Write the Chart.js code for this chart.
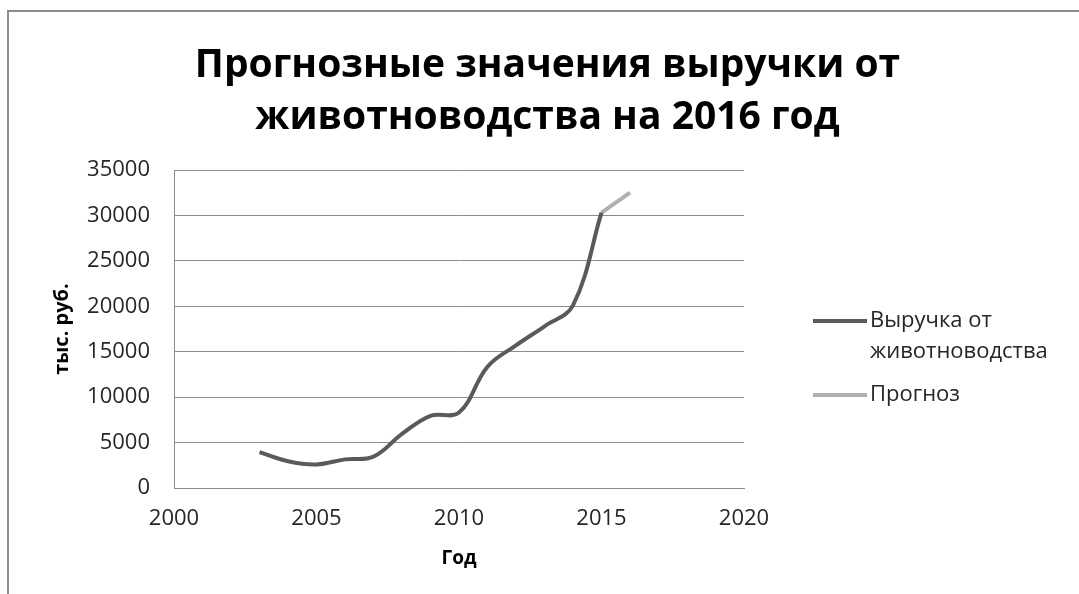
<!DOCTYPE html>
<html>
<head>
<meta charset="utf-8">
<script src="https://cdn.jsdelivr.net/npm/chart.js@4"></script>
<style>
  body { margin: 0; background: #fff; }
  #wrap { position: relative; width: 1079px; height: 594px; overflow: hidden; }
  #frame { position: absolute; left: 7px; top: 10px; right: -4px; bottom: -4px;
           border-left: 2px solid #8c8c8c; border-top: 2px solid #8c8c8c; }
  canvas { position: absolute; left: 0; top: 0; }
</style>
</head>
<body>
<div id="wrap">
  <div id="frame"></div>
  <canvas id="revenue-chart" width="1079" height="594"></canvas>
</div>
<script>
const years = [2003, 2004, 2005, 2006, 2007, 2008, 2009, 2010, 2011, 2012, 2013, 2014, 2015];
const revenue = [3950, 2950, 2600, 3150, 3450, 5950, 7950, 8300, 13350, 15700, 17800, 20100, 30300];
const forecastYears = [2015, 2016];
const forecast = [30300, 32500];
const titleLines = ["Прогнозные значения выручки от", "животноводства на 2016 год"];
const seriesLabels = [["Выручка от", "животноводства"], ["Прогноз"]];

const toPoints = (xs, ys) => xs.map((x, i) => ({ x, y: ys[i] }));
const font = "'Open Sans', sans-serif";

// legend drawn by hand so the first label can wrap onto two lines
const sideLegend = {
  id: "sideLegend",
  afterDraw(chart) {
    const { ctx } = chart;
    const rows = [321, 395];
    ctx.save();
    chart.data.datasets.forEach((ds, i) => {
      const y = rows[i];
      ctx.strokeStyle = ds.borderColor;
      ctx.lineWidth = ds.borderWidth;
      ctx.beginPath();
      ctx.moveTo(813, y);
      ctx.lineTo(867, y);
      ctx.stroke();
      ctx.fillStyle = "#262626";
      ctx.font = `22px ${font}`;
      ctx.textBaseline = "middle";
      ds.label.forEach((line, j) => ctx.fillText(line, 870, y + j * 31));
    });
    ctx.restore();
  },
};

new Chart(document.getElementById("revenue-chart"), {
  type: "line",
  data: {
    datasets: [
      {
        label: seriesLabels[0],
        data: toPoints(years, revenue),
        borderColor: "#5a5a5a",
        borderWidth: 4,
        tension: 0.38,
        pointRadius: 0,
      },
      {
        label: seriesLabels[1],
        data: toPoints(forecastYears, forecast),
        borderColor: "#b0b0b0",
        borderWidth: 4,
        pointRadius: 0,
      },
    ],
  },
  options: {
    responsive: false,
    animation: false,
    layout: { padding: { left: 16, right: 0, top: 0, bottom: 0 } },
    plugins: {
      legend: { display: false },
      tooltip: { enabled: false },
      title: {
        display: true,
        text: titleLines,
        color: "#000",
        font: { family: font, size: 39, weight: "bold", lineHeight: 52 / 39 },
        padding: { top: 40, bottom: 26 },
      },
    },
    scales: {
      x: {
        type: "linear",
        min: 2000,
        max: 2020,
        ticks: { stepSize: 5, color: "#262626", font: { family: font, size: 22 }, padding: 18,
                 callback: (v) => String(v) },
        grid: { display: false, drawTicks: false },
        border: { color: "#8c8c8c", width: 1 },
        title: { display: true, text: "Год", color: "#000",
                 font: { family: font, size: 19, weight: "bold" }, padding: { bottom: 24 } },
        afterFit: (s) => { s.height = 106; },
      },
      y: {
        min: 0,
        max: 35000,
        ticks: { stepSize: 5000, color: "#262626", font: { family: font, size: 22 }, padding: 24,
                 callback: (v) => String(v) },
        grid: { color: "#8c8c8c", lineWidth: 1, drawTicks: false },
        border: { color: "#8c8c8c", width: 1 },
        title: { display: true, text: "тыс. руб.", color: "#000",
                 font: { family: font, size: 20, weight: "bold" }, padding: { top: 34 } },
        afterFit: (s) => { s.width = 158; },
      },
      // empty right-hand axis that reserves room for the legend
      side: {
        position: "right",
        display: true,
        ticks: { display: false },
        grid: { display: false, drawTicks: false },
        border: { display: false },
        afterFit: (s) => { s.width = 335; },
      },
    },
  },
  plugins: [sideLegend],
});
</script>
</body>
</html>
